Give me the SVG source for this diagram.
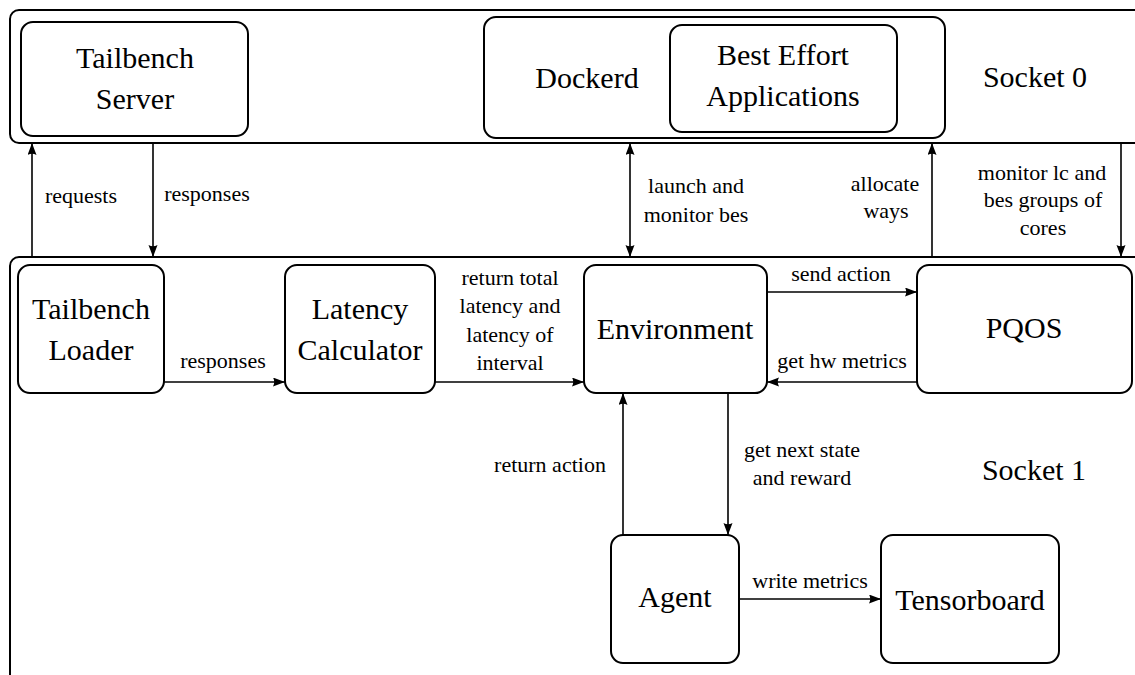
<svg xmlns="http://www.w3.org/2000/svg" width="1135" height="675" viewBox="0 0 1135 675">
  <style>
    .box { fill: none; stroke: #000; stroke-width: 2; }
    .wire { fill: none; stroke: #000; stroke-width: 1.6; }
    .big { font-family: "Liberation Serif", "Times New Roman", serif; font-size: 30px; fill: #000; text-anchor: middle; }
    .lbl { font-family: "Liberation Serif", "Times New Roman", serif; font-size: 22px; fill: #000; text-anchor: middle; }
  </style>
  <defs>
    <marker id="tip" markerUnits="userSpaceOnUse" markerWidth="13" markerHeight="10" refX="12" refY="4.5" orient="auto-start-reverse">
      <path d="M0,0 Q2.5,4.5 0,9 L12,4.5 Z" fill="#000"/>
    </marker>
  </defs>
  <rect width="1135" height="675" fill="#fff"/>

  <!-- socket 0 -->
  <g id="socket0">
    <rect class="box" x="10" y="10" width="1140" height="133" rx="9"/>
    <text class="big" x="1035" y="87">Socket 0</text>
  </g>
  <g id="tailbench-server">
    <rect class="box" x="21" y="22" width="227" height="114" rx="12"/>
    <text class="big" x="135" y="68">Tailbench</text>
    <text class="big" x="135" y="109">Server</text>
  </g>
  <g id="dockerd">
    <rect class="box" x="484" y="17" width="461" height="121" rx="12"/>
    <text class="big" x="587" y="88">Dockerd</text>
  </g>
  <g id="best-effort">
    <rect class="box" x="670" y="25" width="227" height="107" rx="12"/>
    <text class="big" x="783" y="65">Best Effort</text>
    <text class="big" x="783" y="106">Applications</text>
  </g>

  <!-- socket 1 -->
  <g id="socket1">
    <rect class="box" x="10" y="257" width="1140" height="440" rx="9"/>
    <text class="big" x="1034" y="480">Socket 1</text>
  </g>
  <g id="tailbench-loader">
    <rect class="box" x="18" y="265" width="146" height="128" rx="12"/>
    <text class="big" x="91" y="319">Tailbench</text>
    <text class="big" x="91" y="360">Loader</text>
  </g>
  <g id="latency-calculator">
    <rect class="box" x="285" y="265" width="150" height="128" rx="12"/>
    <text class="big" x="360" y="319">Latency</text>
    <text class="big" x="360" y="360">Calculator</text>
  </g>
  <g id="environment">
    <rect class="box" x="584" y="265" width="183" height="128" rx="12"/>
    <text class="big" x="675" y="339">Environment</text>
  </g>
  <g id="pqos">
    <rect class="box" x="917" y="265" width="215" height="128" rx="12"/>
    <text class="big" x="1024" y="338">PQOS</text>
  </g>
  <g id="agent">
    <rect class="box" x="611" y="535" width="128" height="128" rx="12"/>
    <text class="big" x="675" y="607">Agent</text>
  </g>
  <g id="tensorboard">
    <rect class="box" x="881" y="535" width="178" height="128" rx="12"/>
    <text class="big" x="970" y="610">Tensorboard</text>
  </g>

  <!-- connectors -->
  <g id="connectors">
    <line class="wire" x1="32" y1="257" x2="32" y2="143" marker-end="url(#tip)"/>
    <text class="lbl" x="81" y="203">requests</text>

    <line class="wire" x1="153" y1="143" x2="153" y2="257" marker-end="url(#tip)"/>
    <text class="lbl" x="207" y="201">responses</text>

    <line class="wire" x1="630" y1="143" x2="630" y2="257" marker-start="url(#tip)" marker-end="url(#tip)"/>
    <text class="lbl" x="696" y="193">launch and</text>
    <text class="lbl" x="696" y="222">monitor bes</text>

    <line class="wire" x1="932" y1="257" x2="932" y2="143" marker-end="url(#tip)"/>
    <text class="lbl" x="885" y="191">allocate</text>
    <text class="lbl" x="886" y="218">ways</text>

    <line class="wire" x1="1121" y1="143" x2="1121" y2="257" marker-end="url(#tip)"/>
    <text class="lbl" x="1042" y="180">monitor lc and</text>
    <text class="lbl" x="1043" y="207">bes groups of</text>
    <text class="lbl" x="1043" y="235">cores</text>

    <line class="wire" x1="164" y1="382" x2="285" y2="382" marker-end="url(#tip)"/>
    <text class="lbl" x="223" y="368">responses</text>

    <line class="wire" x1="435" y1="382" x2="584" y2="382" marker-end="url(#tip)"/>
    <text class="lbl" x="510" y="285">return total</text>
    <text class="lbl" x="510" y="313">latency and</text>
    <text class="lbl" x="510" y="342">latency of</text>
    <text class="lbl" x="510" y="370">interval</text>

    <line class="wire" x1="767" y1="292" x2="917" y2="292" marker-end="url(#tip)"/>
    <text class="lbl" x="841" y="281">send action</text>

    <line class="wire" x1="917" y1="382" x2="767" y2="382" marker-end="url(#tip)"/>
    <text class="lbl" x="842" y="368">get hw metrics</text>

    <line class="wire" x1="623" y1="535" x2="623" y2="393" marker-end="url(#tip)"/>
    <text class="lbl" x="550" y="472">return action</text>

    <line class="wire" x1="728" y1="393" x2="728" y2="535" marker-end="url(#tip)"/>
    <text class="lbl" x="802" y="457">get next state</text>
    <text class="lbl" x="802" y="485">and reward</text>

    <line class="wire" x1="739" y1="599" x2="881" y2="599" marker-end="url(#tip)"/>
    <text class="lbl" x="810" y="588">write metrics</text>
  </g>
</svg>
